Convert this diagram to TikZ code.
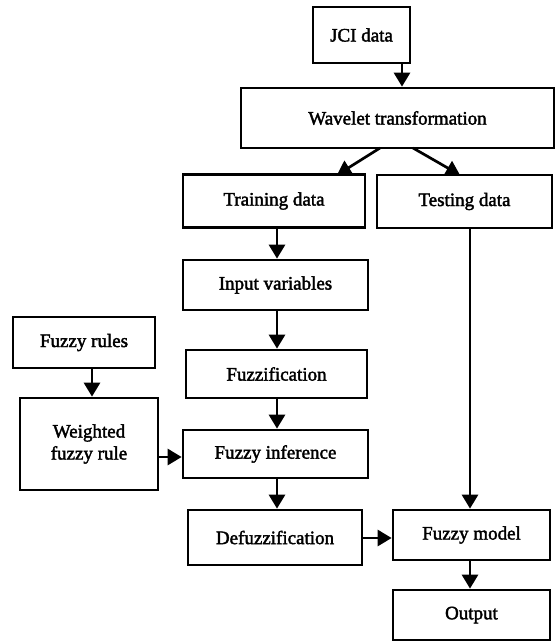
\documentclass[tikz,border=0pt]{standalone}
\usepackage{fontspec}
\setmainfont{Liberation Serif}
\newfontfamily\boxfont{Liberation Serif}[FakeBold=2]
\usetikzlibrary{arrows.meta}
\begin{document}
\begin{tikzpicture}[x=1pt,y=-1pt,
  box/.style={draw,line width=2.7pt,align=center,inner sep=0pt,font=\boxfont\fontsize{19}{22}\selectfont},
  arr/.style={line width=2.7pt,-{Triangle[width=16pt,length=14pt]}}]
\useasboundingbox (0,0) rectangle (557,641);
\node[box,minimum width=97pt,minimum height=56pt] (jci) at (361.5,35) {JCI data};
\node[box,minimum width=313pt,minimum height=60pt] (wave) at (397.5,118) {Wavelet transformation};
\node[box,minimum width=182pt,minimum height=53pt] (train) at (274,201) {Training data};
\node[box,minimum width=175pt,minimum height=53pt] (test) at (464.5,201.5) {Testing data};
\node[box,minimum width=185pt,minimum height=50pt] (input) at (275.5,285) {Input variables};
\node[box,minimum width=142pt,minimum height=51pt] (rules) at (84,342.5) {Fuzzy rules};
\node[box,minimum width=181pt,minimum height=48pt] (fuzzif) at (276.5,374) {Fuzzification};
\node[box,minimum width=138pt,minimum height=92pt] (weight) at (89,444) {Weighted\\fuzzy rule};
\node[box,minimum width=185pt,minimum height=48pt] (infer) at (275.5,454) {Fuzzy inference};
\node[box,minimum width=174pt,minimum height=55pt] (defuz) at (275,537.5) {Defuzzification};
\node[box,minimum width=157pt,minimum height=50pt] (model) at (471.5,535) {Fuzzy model};
\node[box,minimum width=157pt,minimum height=50pt] (out) at (471.5,615) {Output};
\coordinate (xa) at (402,0);
\coordinate (xc) at (277,0);
\coordinate (xr) at (92,0);
\coordinate (xt) at (470,0);
\coordinate (yw) at (0,457);
\coordinate (yd) at (0,538);
\coordinate (w1) at (380,148);
\coordinate (t1) at (337,175);
\coordinate (w2) at (413,148);
\coordinate (t2) at (460,175);
\draw[arr] (jci.south -| xa) -- (wave.north -| xa);
\draw[arr] (w1) -- (t1);
\draw[arr] (w2) -- (t2);
\draw[arr] (train.south -| xc) -- (input.north -| xc);
\draw[arr] (input.south -| xc) -- (fuzzif.north -| xc);
\draw[arr] (fuzzif.south -| xc) -- (infer.north -| xc);
\draw[arr] (infer.south -| xc) -- (defuz.north -| xc);
\draw[arr] (rules.south -| xr) -- (weight.north -| xr);
\draw[arr] (weight.east |- yw) -- (infer.west |- yw);
\draw[arr] (defuz.east |- yd) -- (model.west |- yd);
\draw[arr] (test.south -| xt) -- (model.north -| xt);
\draw[arr] (model.south -| xt) -- (out.north -| xt);
\end{tikzpicture}
\end{document}
